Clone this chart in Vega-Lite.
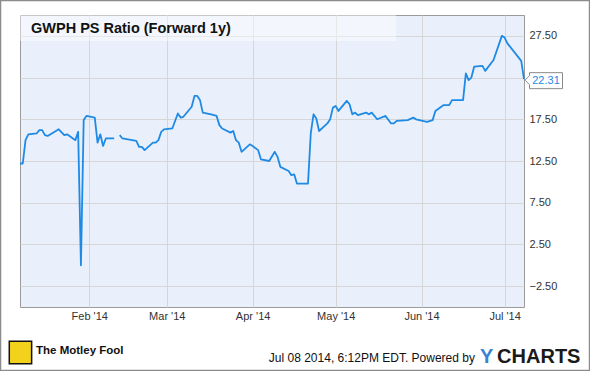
{
  "$schema": "https://vega.github.io/schema/vega-lite/v6.json",
  "width": 504,
  "height": 292,
  "autosize": "none",
  "padding": {"left": 20, "top": 15, "right": 66, "bottom": 64},
  "background": "white",
  "config": {
    "font": "Liberation Sans",
    "view": {"fill": "#e9f0fb", "stroke": "#9a9a9a", "strokeWidth": 1}
  },
  "title": {
    "text": "GWPH PS Ratio (Forward 1y)",
    "anchor": "start",
    "frame": "group",
    "offset": -37,
    "dx": 11,
    "fontSize": 14.5,
    "font": "Liberation Sans",
    "fontWeight": "bold",
    "color": "#111111"
  },
  "layer": [
    {
      "data": {"values": [
        {"date": "2014-01-07", "v": 12.2, "seg": 1},
        {"date": "2014-01-08", "v": 12.2, "seg": 1},
        {"date": "2014-01-09", "v": 15.0, "seg": 1},
        {"date": "2014-01-10", "v": 15.7, "seg": 1},
        {"date": "2014-01-13", "v": 15.8, "seg": 1},
        {"date": "2014-01-14", "v": 16.2, "seg": 1},
        {"date": "2014-01-15", "v": 16.2, "seg": 1},
        {"date": "2014-01-16", "v": 15.6, "seg": 1},
        {"date": "2014-01-17", "v": 15.5, "seg": 1},
        {"date": "2014-01-21", "v": 16.3, "seg": 1},
        {"date": "2014-01-23", "v": 15.6, "seg": 1},
        {"date": "2014-01-24", "v": 15.7, "seg": 1},
        {"date": "2014-01-27", "v": 15.0, "seg": 1},
        {"date": "2014-01-28", "v": 16.0, "seg": 1},
        {"date": "2014-01-29", "v": 0.0, "seg": 1},
        {"date": "2014-01-30", "v": 17.4, "seg": 1},
        {"date": "2014-01-31", "v": 17.9, "seg": 1},
        {"date": "2014-02-03", "v": 17.7, "seg": 1},
        {"date": "2014-02-04", "v": 14.7, "seg": 1},
        {"date": "2014-02-05", "v": 15.7, "seg": 1},
        {"date": "2014-02-06", "v": 14.3, "seg": 1},
        {"date": "2014-02-07", "v": 15.2, "seg": 1},
        {"date": "2014-02-10", "v": 15.2, "seg": 1},
        {"date": "2014-02-12", "v": 15.6, "seg": 2},
        {"date": "2014-02-13", "v": 15.2, "seg": 2},
        {"date": "2014-02-18", "v": 14.9, "seg": 2},
        {"date": "2014-02-19", "v": 14.2, "seg": 2},
        {"date": "2014-02-20", "v": 14.2, "seg": 2},
        {"date": "2014-02-21", "v": 13.8, "seg": 2},
        {"date": "2014-02-24", "v": 14.7, "seg": 2},
        {"date": "2014-02-25", "v": 14.7, "seg": 2},
        {"date": "2014-02-26", "v": 15.0, "seg": 2},
        {"date": "2014-02-27", "v": 16.0, "seg": 2},
        {"date": "2014-02-28", "v": 16.3, "seg": 2},
        {"date": "2014-03-03", "v": 16.4, "seg": 2},
        {"date": "2014-03-05", "v": 18.2, "seg": 2},
        {"date": "2014-03-06", "v": 17.7, "seg": 2},
        {"date": "2014-03-07", "v": 17.8, "seg": 2},
        {"date": "2014-03-10", "v": 19.0, "seg": 2},
        {"date": "2014-03-11", "v": 20.3, "seg": 2},
        {"date": "2014-03-12", "v": 20.3, "seg": 2},
        {"date": "2014-03-13", "v": 19.8, "seg": 2},
        {"date": "2014-03-14", "v": 18.3, "seg": 2},
        {"date": "2014-03-17", "v": 18.1, "seg": 2},
        {"date": "2014-03-19", "v": 17.9, "seg": 2},
        {"date": "2014-03-20", "v": 16.8, "seg": 2},
        {"date": "2014-03-21", "v": 16.4, "seg": 2},
        {"date": "2014-03-24", "v": 15.9, "seg": 2},
        {"date": "2014-03-25", "v": 16.1, "seg": 2},
        {"date": "2014-03-26", "v": 15.0, "seg": 2},
        {"date": "2014-03-27", "v": 14.7, "seg": 2},
        {"date": "2014-03-28", "v": 13.6, "seg": 2},
        {"date": "2014-03-31", "v": 14.5, "seg": 2},
        {"date": "2014-04-01", "v": 14.3, "seg": 2},
        {"date": "2014-04-03", "v": 13.8, "seg": 2},
        {"date": "2014-04-04", "v": 12.7, "seg": 2},
        {"date": "2014-04-07", "v": 12.5, "seg": 2},
        {"date": "2014-04-09", "v": 13.6, "seg": 2},
        {"date": "2014-04-10", "v": 13.0, "seg": 2},
        {"date": "2014-04-11", "v": 11.8, "seg": 2},
        {"date": "2014-04-14", "v": 11.3, "seg": 2},
        {"date": "2014-04-15", "v": 10.8, "seg": 2},
        {"date": "2014-04-16", "v": 10.9, "seg": 2},
        {"date": "2014-04-17", "v": 9.8, "seg": 2},
        {"date": "2014-04-21", "v": 9.8, "seg": 2},
        {"date": "2014-04-22", "v": 15.8, "seg": 2},
        {"date": "2014-04-23", "v": 18.1, "seg": 2},
        {"date": "2014-04-24", "v": 17.6, "seg": 2},
        {"date": "2014-04-25", "v": 16.1, "seg": 2},
        {"date": "2014-04-28", "v": 17.0, "seg": 2},
        {"date": "2014-04-29", "v": 17.5, "seg": 2},
        {"date": "2014-04-30", "v": 18.9, "seg": 2},
        {"date": "2014-05-01", "v": 19.1, "seg": 2},
        {"date": "2014-05-02", "v": 18.5, "seg": 2},
        {"date": "2014-05-05", "v": 19.7, "seg": 2},
        {"date": "2014-05-06", "v": 19.3, "seg": 2},
        {"date": "2014-05-07", "v": 18.1, "seg": 2},
        {"date": "2014-05-08", "v": 18.3, "seg": 2},
        {"date": "2014-05-09", "v": 18.0, "seg": 2},
        {"date": "2014-05-12", "v": 18.3, "seg": 2},
        {"date": "2014-05-13", "v": 18.1, "seg": 2},
        {"date": "2014-05-14", "v": 18.3, "seg": 2},
        {"date": "2014-05-16", "v": 17.5, "seg": 2},
        {"date": "2014-05-19", "v": 17.9, "seg": 2},
        {"date": "2014-05-21", "v": 17.0, "seg": 2},
        {"date": "2014-05-22", "v": 17.0, "seg": 2},
        {"date": "2014-05-23", "v": 17.3, "seg": 2},
        {"date": "2014-05-27", "v": 17.4, "seg": 2},
        {"date": "2014-05-29", "v": 17.7, "seg": 2},
        {"date": "2014-05-30", "v": 17.5, "seg": 2},
        {"date": "2014-06-03", "v": 17.2, "seg": 2},
        {"date": "2014-06-05", "v": 17.4, "seg": 2},
        {"date": "2014-06-06", "v": 18.5, "seg": 2},
        {"date": "2014-06-09", "v": 19.2, "seg": 2},
        {"date": "2014-06-11", "v": 19.2, "seg": 2},
        {"date": "2014-06-12", "v": 19.8, "seg": 2},
        {"date": "2014-06-16", "v": 19.8, "seg": 2},
        {"date": "2014-06-17", "v": 23.0, "seg": 2},
        {"date": "2014-06-18", "v": 22.2, "seg": 2},
        {"date": "2014-06-19", "v": 22.5, "seg": 2},
        {"date": "2014-06-20", "v": 23.8, "seg": 2},
        {"date": "2014-06-23", "v": 23.9, "seg": 2},
        {"date": "2014-06-24", "v": 23.3, "seg": 2},
        {"date": "2014-06-27", "v": 24.6, "seg": 2},
        {"date": "2014-06-30", "v": 27.5, "seg": 2},
        {"date": "2014-07-01", "v": 27.3, "seg": 2},
        {"date": "2014-07-02", "v": 26.6, "seg": 2},
        {"date": "2014-07-07", "v": 24.5, "seg": 2},
        {"date": "2014-07-08", "v": 22.31, "seg": 2}
      ]},
      "mark": {"type": "line", "color": "#1e8ae6", "strokeWidth": 1.8, "strokeJoin": "round"},
      "encoding": {
        "x": {
          "field": "date", "type": "temporal",
          "scale": {"type": "utc", "domain": [{"year": 2014, "month": 1, "date": 7, "utc": true}, {"year": 2014, "month": 7, "date": 8, "utc": true}], "nice": false},
          "axis": {
            "values": [
              {"year": 2014, "month": 2, "date": 1, "utc": true},
              {"year": 2014, "month": 3, "date": 1, "utc": true},
              {"year": 2014, "month": 4, "date": 1, "utc": true},
              {"year": 2014, "month": 5, "date": 1, "utc": true},
              {"year": 2014, "month": 6, "date": 1, "utc": true},
              {"year": 2014, "month": 7, "date": 1, "utc": true}
            ],
            "format": "%b '%y",
            "title": null,
            "ticks": false,
            "domain": false,
            "grid": true,
            "gridColor": "#d6d6d6",
            "gridWidth": 1,
            "labelFont": "Liberation Sans",
            "labelFontSize": 11,
            "labelColor": "#333333",
            "labelPadding": 3,
            "labelFlush": false
          }
        },
        "y": {
          "field": "v", "type": "quantitative",
          "scale": {"domain": [-5, 30], "nice": false, "zero": false},
          "axis": {
            "orient": "right",
            "values": [-2.5, 2.5, 7.5, 12.5, 17.5, 22.5, 27.5],
            "labelExpr": "datum.value == 22.5 ? '' : format(datum.value, '.2f')",
            "title": null,
            "ticks": false,
            "domain": false,
            "grid": true,
            "gridColor": "#d6d6d6",
            "gridWidth": 1,
            "labelFont": "Liberation Sans",
            "labelFontSize": 11,
            "labelColor": "#333333",
            "labelPadding": 5
          }
        },
        "detail": {"field": "seg", "type": "nominal"}
      }
    },
    {
      "data": {"values": [{"k": "band"}]},
      "mark": {"type": "rect", "fill": "white", "opacity": 0.45},
      "encoding": {
        "x": {"datum": {"year": 2014, "month": 1, "date": 7, "utc": true}, "type": "temporal", "axis": {"title": null}},
        "x2": {"datum": {"year": 2014, "month": 5, "date": 22, "hours": 21, "utc": true}},
        "y": {"datum": 30, "type": "quantitative", "axis": {"title": null}},
        "y2": {"datum": 26.88}
      }
    },
    {
      "data": {"values": [{"date": "2014-07-08", "v": 22.31}]},
      "layer": [
        {
          "mark": {"type": "point", "shape": "M0.1,0.1 L0.55,-0.35 L0.55,-0.65 L3.85,-0.65 L3.85,0.95 L0.55,0.95 L0.55,0.55 Z", "size": 400, "filled": true, "fill": "white", "stroke": "#8a8a8a", "strokeWidth": 1, "opacity": 1},
          "encoding": {
            "x": {"field": "date", "type": "temporal", "axis": {"title": null}},
            "y": {"field": "v", "type": "quantitative", "axis": {"title": null}}
          }
        },
        {
          "mark": {"type": "text", "align": "center", "baseline": "middle", "dx": 22, "dy": 2, "fontSize": 11, "font": "Liberation Sans", "color": "#1e88e5"},
          "encoding": {
            "x": {"field": "date", "type": "temporal", "axis": {"title": null}},
            "y": {"field": "v", "type": "quantitative", "axis": {"title": null}},
            "text": {"field": "v", "type": "quantitative", "format": ".2f"}
          }
        }
      ]
    },
    {
      "data": {"values": [{"k": "logo"}]},
      "mark": {"type": "point", "shape": "square", "size": 500, "filled": true, "fill": "#f2d21b", "stroke": "#111111", "strokeWidth": 1.5, "opacity": 1},
      "encoding": {
        "x": {"datum": {"year": 2014, "month": 1, "date": 7, "hours": 4, "utc": true}, "type": "temporal", "axis": {"title": null}},
        "y": {"datum": -10.45, "type": "quantitative", "axis": {"title": null}}
      }
    },
    {
      "data": {"values": [{"k": "fool"}]},
      "mark": {"type": "text", "text": "The Motley Fool", "align": "left", "baseline": "middle", "fontSize": 11.5, "fontWeight": "bold", "font": "Liberation Sans", "color": "#111111"},
      "encoding": {
        "x": {"datum": {"year": 2014, "month": 1, "date": 12, "hours": 19, "utc": true}, "type": "temporal", "axis": {"title": null}},
        "y": {"datum": -10.27, "type": "quantitative", "axis": {"title": null}}
      }
    },
    {
      "data": {"values": [{"k": "stamp"}]},
      "mark": {"type": "text", "text": "Jul 08 2014, 6:12PM EDT.  Powered by", "align": "right", "baseline": "middle", "fontSize": 12, "font": "Liberation Sans", "color": "#111111"},
      "encoding": {
        "x": {"datum": {"year": 2014, "month": 6, "date": 20, "hours": 7, "utc": true}, "type": "temporal", "axis": {"title": null}},
        "y": {"datum": -11.1, "type": "quantitative", "axis": {"title": null}}
      }
    },
    {
      "data": {"values": [{"k": "y"}]},
      "mark": {"type": "text", "text": "Y", "align": "left", "baseline": "middle", "fontSize": 20, "fontWeight": "bold", "font": "Liberation Sans", "color": "#3b82d6"},
      "encoding": {
        "x": {"datum": {"year": 2014, "month": 6, "date": 22, "hours": 3, "utc": true}, "type": "temporal", "axis": {"title": null}},
        "y": {"datum": -10.99, "type": "quantitative", "axis": {"title": null}}
      }
    },
    {
      "data": {"values": [{"k": "charts"}]},
      "mark": {"type": "text", "text": "CHARTS", "align": "left", "baseline": "middle", "fontSize": 20, "fontWeight": "bold", "font": "Liberation Sans", "color": "#1a1a1a"},
      "encoding": {
        "x": {"datum": {"year": 2014, "month": 6, "date": 28, "hours": 7, "utc": true}, "type": "temporal", "axis": {"title": null}},
        "y": {"datum": -10.99, "type": "quantitative", "axis": {"title": null}}
      }
    },
    {
      "data": {"values": [{"k": "frame"}]},
      "mark": {"type": "rect", "fill": null, "filled": false, "stroke": "#8c8c8c", "strokeWidth": 1.5},
      "encoding": {
        "x": {"datum": {"year": 2013, "month": 12, "date": 30, "hours": 23, "utc": true}, "type": "temporal", "axis": {"title": null}},
        "x2": {"datum": {"year": 2014, "month": 7, "date": 31, "hours": 16, "utc": true}},
        "y": {"datum": 31.74, "type": "quantitative", "axis": {"title": null}},
        "y2": {"datum": -12.61}
      }
    }
  ]
}
